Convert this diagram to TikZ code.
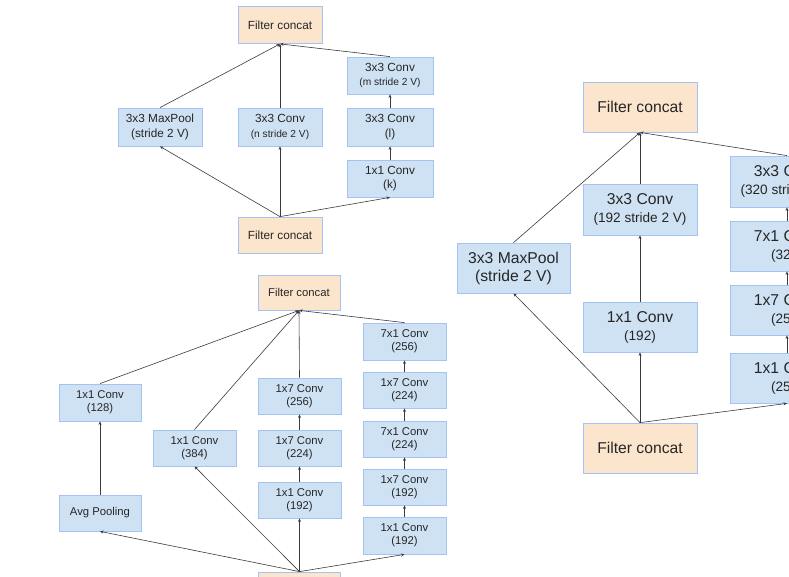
\documentclass[tikz,border=0pt]{standalone}
\usepackage{fontspec}
\setmainfont{Liberation Sans}
\usetikzlibrary{arrows.meta}

\definecolor{layerfill}{HTML}{CFE2F3}
\definecolor{layeredge}{HTML}{A4C2F4}
\definecolor{concatfill}{HTML}{FCE5CD}
\definecolor{inkgray}{HTML}{262626}
\definecolor{wire}{HTML}{3A3A3A}

\begin{document}
\begin{tikzpicture}[x=1pt,y=-1pt,
  layer/.style={draw=layeredge, line width=0.8pt, fill=layerfill,
                inner sep=0pt, align=center, text=inkgray},
  concat/.style={layer, fill=concatfill},
  dims/.style 2 args={minimum width=#1pt, minimum height=#2pt},
  % text sizes of the three blocks
  fsmall/.style={font=\fontsize{11.8}{14.5}\selectfont},
  fmid/.style={font=\fontsize{11.3}{13.4}\selectfont},
  flarge/.style={font=\fontsize{15.7}{18}\selectfont},
  flow/.style={draw=wire, line width=0.6pt, -{Stealth[length=3.5pt,width=3pt]}}
]
\useasboundingbox (0,0) rectangle (789,576);
\clip (0,0) rectangle (789,576);

% ---------- reduction block (top left) ----------
\begin{scope}[every node/.append style={fsmall}]
  \node[concat, dims={84}{37}] (aTop)  at (280,25)    {Filter concat};
  \node[layer,  dims={84}{38}] (aPool) at (160,127)   {3x3 MaxPool\\(stride 2 V)};
  \node[layer,  dims={84}{38}] (aConv) at (280,127)   {3x3 Conv\\{\fontsize{10.2}{12}\selectfont (n stride 2 V)}};
  \node[layer,  dims={86}{37}] (aC3)   at (390,75.5)  {3x3 Conv\\{\fontsize{10.2}{12}\selectfont (m stride 2 V)}};
  \node[layer,  dims={86}{38}] (aC2)   at (390,127)   {3x3 Conv\\(l)};
  \node[layer,  dims={86}{37}] (aC1)   at (390,178.5) {1x1 Conv\\(k)};
  \node[concat, dims={84}{36}] (aBot)  at (280,235)   {Filter concat};
\end{scope}
\draw[flow] (aBot.north) -- (aPool.south);
\draw[flow] (aBot.north) -- (aConv.south);
\draw[flow] (aBot.north) -- (aC1.south);
\draw[flow] (aC1.north)  -- (aC2.south);
\draw[flow] (aC2.north)  -- (aC3.south);
\draw[flow] (aPool.north) -- (aTop.south);
\draw[flow] (aConv.north) -- (aTop.south);
\draw[flow] (aC3.north)  -- (aTop.south);

% ---------- inception block (bottom left) ----------
\begin{scope}[every node/.append style={fmid}]
  \node[concat, dims={82}{35}] (bTop)  at (299,292.5) {Filter concat};
  \node[layer,  dims={82}{37}] (bP2)   at (100,402.5) {1x1 Conv\\(128)};
  \node[layer,  dims={82}{36}] (bP1)   at (100,513)   {Avg Pooling};
  \node[layer,  dims={83}{36}] (bS1)   at (194.5,448) {1x1 Conv\\(384)};
  \node[layer,  dims={83}{36}] (bM3)   at (299.5,396) {1x7 Conv\\(256)};
  \node[layer,  dims={83}{36}] (bM2)   at (299.5,448) {1x7 Conv\\(224)};
  \node[layer,  dims={83}{36}] (bM1)   at (299.5,500) {1x1 Conv\\(192)};
  \node[layer,  dims={83}{37}] (bR5)   at (404.5,341.5) {7x1 Conv\\(256)};
  \node[layer,  dims={83}{36}] (bR4)   at (404.5,390) {1x7 Conv\\(224)};
  \node[layer,  dims={83}{36}] (bR3)   at (404.5,439) {7x1 Conv\\(224)};
  \node[layer,  dims={83}{36}] (bR2)   at (404.5,487) {1x7 Conv\\(192)};
  \node[layer,  dims={83}{37}] (bR1)   at (404.5,535.5) {1x1 Conv\\(192)};
  \node[concat, dims={82}{35}] (bBot)  at (299.5,589.5) {Filter concat};
\end{scope}
\draw[flow] (bBot.north) -- (bP1.south);
\draw[flow] (bBot.north) -- (bS1.south);
\draw[flow] (bBot.north) -- (bM1.south);
\draw[flow] (bBot.north) -- (bR1.south);
\draw[flow] (bP1.north) -- (bP2.south);
\draw[flow] (bM1.north) -- (bM2.south);
\draw[flow] (bM2.north) -- (bM3.south);
\draw[flow] (bR1.north) -- (bR2.south);
\draw[flow] (bR2.north) -- (bR3.south);
\draw[flow] (bR3.north) -- (bR4.south);
\draw[flow] (bR4.north) -- (bR5.south);
\draw[flow] (bP2.north) -- (bTop.south);
\draw[flow] (bS1.north) -- (bTop.south);
\draw[flow] (bM3.north) -- (bTop.south);
\draw[flow] (bR5.north) -- (bTop.south);

% ---------- reduction block (right) ----------
\begin{scope}[every node/.append style={flarge}]
  \node[concat, dims={114}{50}] (cTop)  at (640,107)   {Filter concat};
  \node[layer,  dims={114}{51}] (cM2)   at (640,209.5) {3x3 Conv\\{\fontsize{13.6}{16}\selectfont (192 stride 2 V)}};
  \node[layer,  dims={114}{50}] (cM1)   at (640,327)   {1x1 Conv\\{\fontsize{13.6}{16}\selectfont (192)}};
  \node[layer,  dims={113}{50}] (cPool) at (513.5,268) {3x3 MaxPool\\(stride 2 V)};
  \node[concat, dims={114}{50}] (cBot)  at (640,448)   {Filter concat};
  \node[layer,  dims={114}{51}] (cR4)   at (787,181.5) {3x3 Conv\\{\fontsize{13.6}{16}\selectfont (320 stride 2 V)}};
  \node[layer,  dims={114}{50}] (cR3)   at (787,246)   {7x1 Conv\\{\fontsize{13.6}{16}\selectfont (320)}};
  \node[layer,  dims={114}{50}] (cR2)   at (787,310)   {1x7 Conv\\{\fontsize{13.6}{16}\selectfont (256)}};
  \node[layer,  dims={114}{50}] (cR1)   at (787,378)   {1x1 Conv\\{\fontsize{13.6}{16}\selectfont (256)}};
\end{scope}
\draw[flow] (cBot.north) -- (cPool.south);
\draw[flow] (cBot.north) -- (cM1.south);
\draw[flow] (cBot.north) -- (cR1.south);
\draw[flow] (cM1.north) -- (cM2.south);
\draw[flow] (cR1.north) -- (cR2.south);
\draw[flow] (cR2.north) -- (cR3.south);
\draw[flow] (cR3.north) -- (cR4.south);
\draw[flow] (cPool.north) -- (cTop.south);
\draw[flow] (cM2.north) -- (cTop.south);
\draw[flow] (cR4.north) -- (cTop.south);
\end{tikzpicture}
\end{document}
